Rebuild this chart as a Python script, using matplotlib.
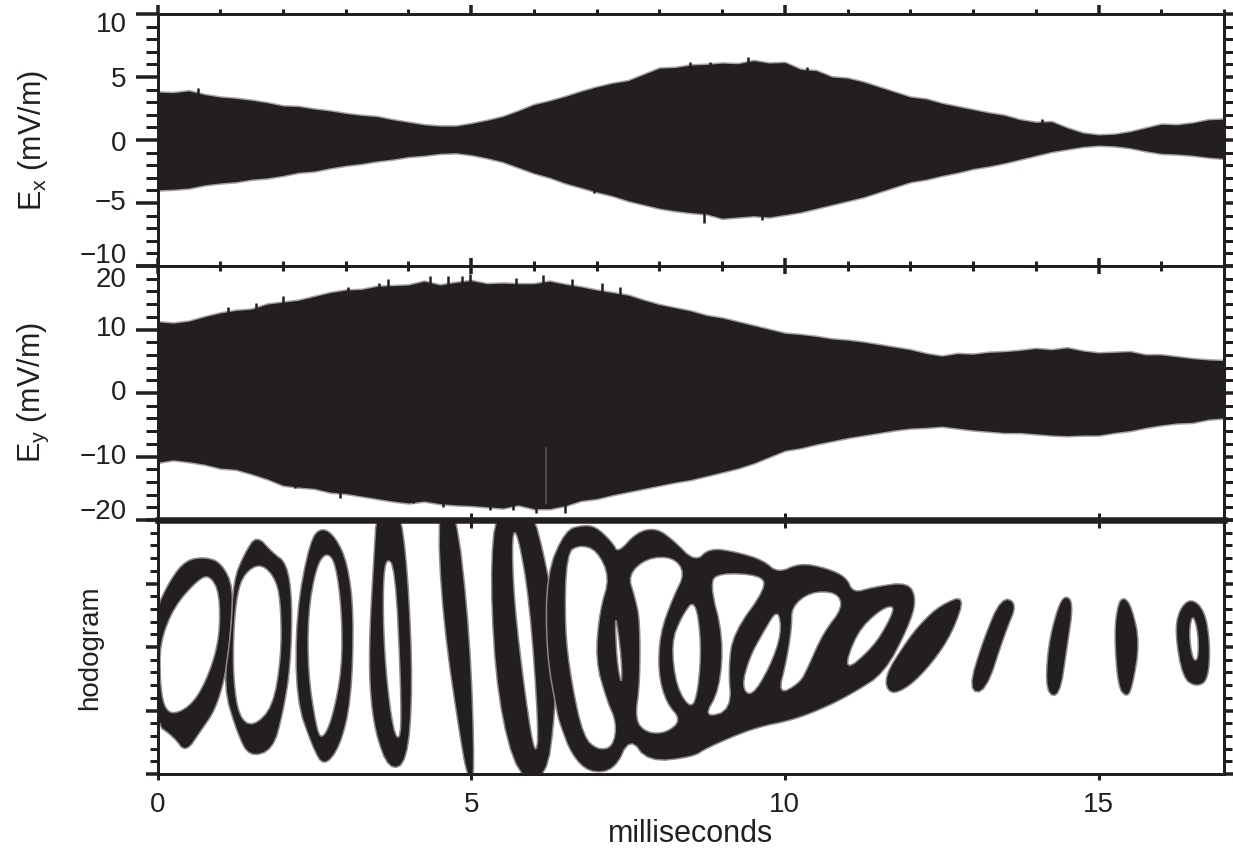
"""Two electric field traces with a hodogram strip underneath."""

import matplotlib

matplotlib.use("Agg")
import matplotlib.pyplot as plt
import numpy as np
from matplotlib.patches import PathPatch
from matplotlib.path import Path
from matplotlib.ticker import MultipleLocator, NullFormatter

plt.rcParams["font.family"] = ["Liberation Sans", "DejaVu Sans"]
plt.rcParams["mathtext.fontset"] = "custom"
plt.rcParams["mathtext.rm"] = "Liberation Sans"

INK = "#231f20"
EDGE = "#8a8889"
FRINGE = "#a5a3a4"

# envelopes sampled every 0.25 ms, 0 to 17 ms
ex_upper = [3.8, 3.75, 3.9, 3.6, 3.4, 3.3, 3.15, 2.95, 2.7, 2.65, 2.45, 2.3, 2.1, 1.95, 1.85, 1.6, 1.4,
            1.2, 1.1, 1.1, 1.3, 1.55, 1.85, 2.3, 2.8, 3.1, 3.45, 3.85, 4.2, 4.5, 4.7, 5.2, 5.7, 5.75,
            5.95, 6.0, 6.1, 6.05, 6.3, 6.1, 6.15, 5.6, 5.5, 5.0, 4.9, 4.6, 4.2, 3.8, 3.4, 3.25, 2.9,
            2.65, 2.4, 2.15, 1.95, 1.6, 1.4, 1.45, 0.95, 0.55, 0.4, 0.45, 0.65, 0.95, 1.25, 1.2, 1.35,
            1.6, 1.65]
ex_lower = [-3.95, -3.9, -3.8, -3.55, -3.4, -3.3, -3.1, -3.0, -2.8, -2.55, -2.45, -2.2, -2.0, -1.85,
            -1.65, -1.5, -1.3, -1.2, -1.05, -1.0, -1.15, -1.4, -1.7, -2.15, -2.6, -2.95, -3.4, -3.75,
            -4.1, -4.4, -4.8, -5.1, -5.4, -5.6, -5.75, -5.85, -6.2, -6.1, -6.0, -6.1, -5.9, -5.7, -5.4,
            -5.1, -4.8, -4.5, -4.1, -3.7, -3.3, -3.1, -2.8, -2.55, -2.25, -2.05, -1.8, -1.5, -1.2,
            -0.9, -0.7, -0.5, -0.4, -0.45, -0.6, -0.85, -1.05, -1.1, -1.2, -1.35, -1.45]
ey_upper = [11.2, 11.0, 11.3, 12.0, 12.6, 13.0, 13.2, 14.0, 14.3, 14.6, 15.2, 15.8, 16.2, 16.3, 16.8,
            16.9, 17.0, 17.6, 17.0, 17.4, 17.7, 17.2, 17.3, 17.2, 17.2, 17.6, 17.1, 16.7, 16.2, 15.8,
            15.4, 14.6, 13.9, 13.4, 12.9, 12.2, 11.8, 11.2, 10.6, 10.0, 9.4, 9.2, 8.9, 8.5, 8.3, 8.0,
            7.6, 7.2, 6.8, 6.2, 5.8, 6.2, 6.1, 6.4, 6.5, 6.7, 7.0, 6.8, 7.1, 6.6, 6.3, 6.4, 6.5, 6.0,
            6.0, 5.7, 5.4, 5.2, 5.1]
ey_lower = [-10.9, -10.5, -10.8, -11.2, -11.8, -12.0, -12.7, -13.5, -14.5, -14.8, -15.0, -15.6, -15.8,
            -16.2, -16.6, -17.0, -17.3, -17.0, -17.4, -17.6, -17.7, -17.9, -18.1, -17.6, -18.2, -18.2,
            -17.7, -16.9, -16.6, -16.0, -15.5, -15.0, -14.5, -14.0, -13.6, -13.0, -12.4, -11.8, -11.0,
            -10.0, -9.0, -8.6, -8.0, -7.5, -7.0, -6.6, -6.2, -5.8, -5.5, -5.4, -5.2, -5.5, -5.8, -6.0,
            -6.2, -6.2, -6.4, -6.6, -6.7, -6.6, -6.6, -6.2, -5.9, -5.4, -5.0, -4.7, -4.6, -4.1, -3.9]

# single spikes that stick out of the envelopes
ex_spike_t = [0.65, 6.95, 8.49, 8.81, 9.41, 10.35, 12.46, 14.1, 6.95, 8.71, 9.63]
ex_spike_v = [4.1, 4.1, 6.2, 6.2, 6.55, 5.8, 2.9, 1.7, -4.2, -6.6, -6.35]
ey_spike_t = [1.13, 1.57, 2.0, 3.04, 3.53, 3.67, 4.34, 4.63, 4.85, 4.98, 5.72, 6.15, 6.6, 7.08, 7.37,
              2.19, 2.91, 4.07, 4.55, 5.3, 5.66, 6.04, 6.5]
ey_spike_v = [13.6, 14.2, 15.2, 16.7, 17.3, 18.0, 18.5, 18.5, 18.5, 18.8, 18.1, 18.6, 18.0, 17.3, 16.7,
              -15.0, -16.5, -17.4, -17.9, -18.4, -18.4, -18.9, -18.9]

ex_ticks = [10, 5, 0, -5, -10]
ey_ticks = [20, 10, 0, -10, -20]
x_ticks = [0, 5, 10, 15]

# hodogram outlines: (ms, height), first list is the outside, the rest are holes
loop_a = [
    [(-0.05, 161), (0.2, 194), (0.45, 214), (0.77, 217), (1.02, 211), (1.21, 187), (1.17, 141), (1.08, 97),
     (0.92, 64), (0.7, 44), (0.45, 21), (0.26, 37), (-0.05, 51)],
    [(0.04, 131), (0.26, 167), (0.64, 194), (0.83, 199), (0.99, 181), (0.99, 137), (0.83, 101), (0.58, 71),
     (0.26, 59), (0.1, 67), (0.04, 94)],
]
loop_b = [
    [(1.21, 194), (1.39, 221), (1.58, 239), (1.84, 221), (2.06, 211), (2.15, 174), (2.12, 107), (2.0, 61),
     (1.84, 24), (1.46, 17), (1.27, 41), (1.05, 87), (1.17, 141)],
    [(1.27, 181), (1.39, 201), (1.65, 211), (1.9, 194), (1.97, 164), (1.97, 117), (1.84, 67), (1.52, 47),
     (1.3, 57), (1.21, 94), (1.21, 141)],
]
loop_c = [
    [(2.21, 161), (2.43, 234), (2.62, 247), (2.84, 237), (3.03, 211), (3.13, 161), (3.09, 74), (2.91, 27),
     (2.65, 7), (2.47, 27), (2.21, 74)],
    [(2.4, 161), (2.53, 207), (2.69, 222), (2.84, 211), (2.94, 161), (2.94, 104), (2.78, 54), (2.62, 34),
     (2.53, 47), (2.4, 101)],
]
loop_d = [
    [(3.38, 141), (3.44, 207), (3.5, 270), (3.85, 270), (3.99, 204), (4.07, 87), (3.98, 11), (3.69, 4),
     (3.47, 41), (3.38, 87)],
    [(3.63, 217), (3.79, 207), (3.88, 87), (3.88, 34), (3.76, 41), (3.63, 107), (3.59, 174)],
]
loop_e = [[(4.46, 270), (4.75, 270), (4.98, 141), (5.06, -5), (4.96, -5), (4.86, 21), (4.54, 157)]]
loop_f = [
    [(5.3, 194), (5.4, 270), (5.95, 270), (6.21, 207), (6.37, 141), (6.34, 61), (6.2, -5), (5.75, -5),
     (5.42, 74)],
    [(5.65, 241), (5.74, 241), (5.93, 174), (6.08, 41), (6.02, 17), (5.87, 74), (5.68, 174)],
]
tangle = [
    [(6.2, 200), (6.5, 244), (6.79, 249), (7.0, 247), (7.26, 231), (7.34, 221), (7.64, 242), (7.95, 246),
     (8.22, 234), (8.57, 212), (8.8, 226), (9.23, 222), (9.65, 214), (9.89, 201), (10.24, 211), (10.66, 206),
     (10.98, 197), (11.09, 181), (11.41, 187), (11.97, 192), (12.1, 174), (11.97, 147), (11.59, 101),
     (11.09, 81), (10.66, 67), (10.13, 54), (9.5, 46), (8.75, 26), (8.54, 17), (7.82, 12), (7.53, 37),
     (7.29, 4), (6.89, 1), (6.6, 19), (6.41, 51), (6.37, 61), (6.2, 120)],
    [(6.52, 221), (6.73, 229), (7.0, 224), (7.21, 197), (7.05, 164), (6.98, 114), (7.16, 74), (7.32, 51),
     (7.26, 27), (7.02, 24), (6.79, 37), (6.6, 91), (6.49, 147)],
    [(7.29, 166), (7.4, 114), (7.4, 87), (7.32, 114)],
    [(7.5, 199), (7.8, 216), (8.22, 217), (8.41, 201), (8.22, 177), (8.01, 141), (7.98, 101), (8.11, 71),
     (8.35, 54), (8.11, 41), (7.8, 41), (7.61, 54), (7.69, 91), (7.69, 154), (7.61, 177)],
    [(8.57, 176), (8.67, 131), (8.62, 84), (8.51, 64), (8.27, 87), (8.19, 131), (8.35, 157)],
    [(8.8, 191), (8.96, 201), (9.6, 199), (9.71, 187), (9.18, 141), (9.1, 107), (9.15, 64), (8.7, 56),
     (8.96, 84), (9.02, 137)],
    [(9.89, 166), (9.95, 141), (9.76, 107), (9.47, 77), (9.31, 87), (9.44, 117), (9.65, 141)],
    [(10.11, 167), (10.4, 182), (10.82, 182), (10.93, 167), (10.61, 141), (10.37, 107), (10.24, 91),
     (9.89, 79), (10.03, 114), (10.11, 147)],
    [(11.75, 169), (11.51, 164), (11.14, 141), (10.93, 101), (11.41, 127), (11.67, 154)],
]
streak_a = [[(12.88, 179), (12.48, 169), (12.17, 151), (11.92, 131), (11.58, 97), (11.67, 79), (11.98, 87),
             (12.35, 111), (12.67, 141)]]
streak_b = [[(13.45, 177), (13.71, 171), (13.51, 141), (13.2, 81), (12.92, 84), (13.16, 134)]]
streak_c = [[(14.47, 179), (14.6, 171), (14.5, 127), (14.38, 77), (14.16, 81), (14.19, 127), (14.35, 167)]]
streak_d = [[(15.41, 177), (15.53, 167), (15.66, 131), (15.53, 84), (15.44, 77), (15.31, 87), (15.25, 141),
             (15.31, 171)]]
ring_e = [
    [(16.47, 176), (16.69, 164), (16.78, 131), (16.75, 94), (16.56, 87), (16.34, 96), (16.22, 141), (16.28, 164)],
    [(16.5, 161), (16.59, 141), (16.59, 114), (16.5, 114), (16.44, 141)],
]
loops = [loop_a, loop_b, loop_c, loop_d, loop_e, loop_f, tangle, streak_a, streak_b, streak_c, streak_d, ring_e]


def px(n):
    return n * 72 / 100


def smooth(points, rounds=2):
    pts = np.array(points, dtype=float)
    for _ in range(rounds):
        nxt = np.roll(pts, -1, axis=0)
        pts = np.column_stack([0.75 * pts + 0.25 * nxt, 0.25 * pts + 0.75 * nxt]).reshape(-1, 2)
    return pts


def winding(pts):
    x, y = pts[:, 0], pts[:, 1]
    return np.sum(x * np.roll(y, -1) - np.roll(x, -1) * y)


def loop_patch(outlines):
    verts = []
    codes = []
    for k, outline in enumerate(outlines):
        pts = smooth(outline)
        # outside clockwise, holes the other way round
        if (winding(pts) > 0) == (k == 0):
            pts = pts[::-1]
        verts.extend(pts.tolist() + [pts[0].tolist()])
        codes.extend([Path.MOVETO] + [Path.LINETO] * (len(pts) - 1) + [Path.CLOSEPOLY])
    return PathPatch(Path(verts, codes), facecolor=INK, edgecolor=EDGE, linewidth=px(1.5))


def draw_trace(ax, upper, lower, spike_t, spike_v):
    t = np.arange(len(upper)) * 0.25
    ax.fill_between(t, lower, upper, color=INK, edgecolor=FRINGE, linewidth=px(3))
    ax.fill_between(t, lower, upper, color=INK, linewidth=0)
    ax.vlines(spike_t, 0, spike_v, color=INK, linewidth=px(2.5))


def left_labels(ax, values, shifts):
    for value, shift in zip(values, shifts):
        ax.annotate(str(value).replace("-", "\u2212"), xy=(0, value), xycoords=ax.get_yaxis_transform(),
                    xytext=(-31, shift), textcoords="offset pixels", ha="right", va="center",
                    fontsize=20, color=INK, annotation_clip=False)


def style_axis(ax, major, minor, major_len, minor_len):
    ax.set_xlim(0, 17)
    ax.yaxis.set_major_locator(MultipleLocator(major))
    ax.yaxis.set_minor_locator(MultipleLocator(minor))
    ax.yaxis.set_major_formatter(NullFormatter())
    ax.tick_params(axis="y", which="major", left=True, right=True, direction="out", length=px(major_len),
                   width=px(3.5), color=INK)
    ax.tick_params(axis="y", which="minor", left=True, right=True, direction="out", length=px(minor_len),
                   width=px(3), color=INK)
    for spine in ax.spines.values():
        spine.set_linewidth(px(3))
        spine.set_color(INK)


W, H = 1233, 850
fig = plt.figure(figsize=(W / 100, H / 100), dpi=100)


def add_panel(top, bottom):
    return fig.add_axes([157.5 / W, 1 - bottom / H, (1224 - 157.5) / W, (bottom - top) / H])


ax_x = add_panel(14, 266)
ax_y = add_panel(266, 520)
ax_h = add_panel(520, 774)

draw_trace(ax_x, ex_upper, ex_lower, ex_spike_t, ex_spike_v)
ax_x.set_ylim(-10, 10)
style_axis(ax_x, 5, 1, 22, 12)
ax_x.xaxis.set_major_locator(MultipleLocator(5))
ax_x.xaxis.set_minor_locator(MultipleLocator(1))
ax_x.tick_params(axis="x", which="major", top=True, bottom=False, labeltop=False, labelbottom=False,
                 direction="out", length=px(9), width=px(3.5), color=INK)
ax_x.tick_params(axis="x", which="minor", top=True, bottom=False, direction="out", length=px(5), width=px(3),
                 color=INK)
left_labels(ax_x, ex_ticks, [-11, -3, -4, 0, 10])

draw_trace(ax_y, ey_upper, ey_lower, ey_spike_t, ey_spike_v)
ax_y.vlines([6.2], [-8.5], [-17.5], color="#4a4849", linewidth=px(2))
ax_y.set_ylim(-20, 20)
style_axis(ax_y, 10, 2, 22, 12)
ax_y.xaxis.set_major_locator(MultipleLocator(5))
ax_y.xaxis.set_minor_locator(MultipleLocator(1))
ax_y.tick_params(axis="x", which="major", top=True, bottom=False, labeltop=False, labelbottom=False,
                 direction="inout", length=px(16), width=px(3.5), color=INK)
ax_y.tick_params(axis="x", which="minor", top=True, bottom=False, direction="inout", length=px(10), width=px(3),
                 color=INK)
left_labels(ax_y, ey_ticks, [-14, 0, 0, 0, 8])

for outlines in loops:
    ax_h.add_patch(loop_patch(outlines))
ax_h.set_ylim(0, 254)
style_axis(ax_h, 63.5, 12.7, 12, 8)
ax_h.spines["top"].set_linewidth(px(6.5))
ax_h.set_xticks(x_ticks)
ax_h.set_xticklabels([str(v) for v in x_ticks], fontsize=20, color=INK)
ax_h.tick_params(axis="x", which="major", bottom=True, direction="out", length=px(6), width=px(3),
                 color=INK, pad=px(12))
ax_h.set_xlabel("milliseconds", fontsize=22, color=INK, labelpad=px(1))

# the thick line between the lower panels has its ticks poking out on both sides
ax_top = ax_h.secondary_xaxis("top")
ax_top.set_xticks(x_ticks[1:])
ax_top.tick_params(axis="x", direction="inout", length=px(15), width=px(3), color=INK, labeltop=False)
ax_top.spines["top"].set_visible(False)

ax_x.text(33 / W, 1 - 141 / H, r"$\mathrm{E_x}$ (mV/m)", transform=fig.transFigure, rotation=90, ha="center",
          va="center", fontsize=22, color=INK)
ax_y.text(33 / W, 1 - 393 / H, r"$\mathrm{E_y}$ (mV/m)", transform=fig.transFigure, rotation=90, ha="center",
          va="center", fontsize=22, color=INK)
ax_h.text(90 / W, 1 - 648 / H, "hodogram", transform=fig.transFigure, rotation=90, ha="center", va="center",
          fontsize=20, color=INK)

fig.savefig("out.png", dpi=100)
plt.close(fig)
